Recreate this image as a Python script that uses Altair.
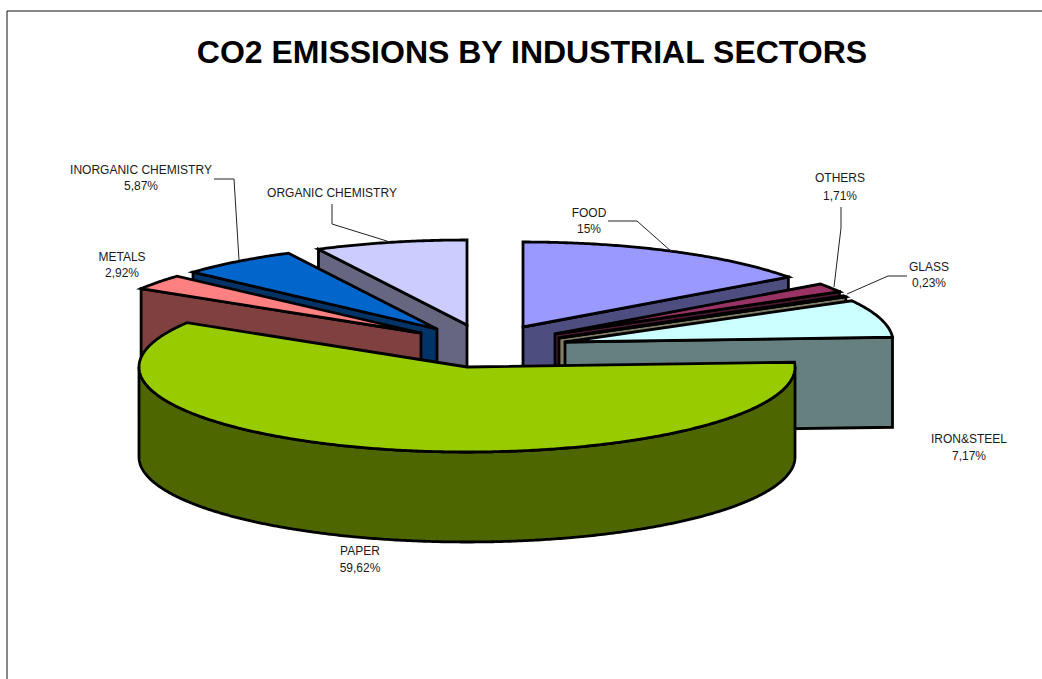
import math
import altair as alt

# Sector shares in percent, clockwise from twelve o'clock
sectors = ["FOOD", "OTHERS", "GLASS", "IRON&STEEL", "PAPER", "METALS", "INORGANIC CHEMISTRY", "ORGANIC CHEMISTRY"]
shares = [15.0, 1.71, 0.23, 7.17, 59.62, 2.92, 5.87, 7.48]
top_colors = ["#9999FF", "#993366", "#FFFFCC", "#CCFFFF", "#99CC00", "#FF8080", "#0066CC", "#CCCCFF"]
side_colors = ["#4D4D80", "#4D1A33", "#807F66", "#668080", "#4D6600", "#804040", "#003366", "#666680"]

# Where each exploded slice has its apex on the page
apex_x = [523, 555, 559, 565, 467, 421, 437, 467]
apex_y = [327, 334, 338, 342, 367, 333, 329, 325]

RX, RY, DEPTH = 328, 85, 90
WIDTH, HEIGHT = 1042, 679

# Slices further back are painted first so nearer ones overlap them
paint_order = [7, 6, 5, 0, 1, 2, 3, 4]

label_lines = [
    ("INORGANIC CHEMISTRY", 141, 169), ("5,87%", 141, 185),
    ("ORGANIC CHEMISTRY", 332, 192),
    ("METALS", 122, 256), ("2,92%", 122, 272),
    ("FOOD", 589, 212), ("15%", 589, 228),
    ("OTHERS", 840, 177), ("1,71%", 840, 195),
    ("GLASS", 929, 266), ("0,23%", 929, 282),
    ("IRON&STEEL", 969, 438), ("7,17%", 969, 455),
    ("PAPER", 360, 550), ("59,62%", 360, 567),
]

leader_paths = [
    [(214, 179), (234, 179), (239, 260)],
    [(332, 204), (332, 224), (390, 242)],
    [(608, 221), (637, 221), (672, 252)],
    [(841, 207), (841, 228), (834, 287)],
    [(907, 276), (888, 276), (847, 294)],
]


def rim(cx, cy, angle):
    """Point on the elliptical rim, angle in degrees clockwise from twelve."""
    a = math.radians(angle)
    return (cx + RX * math.sin(a), cy - RY * math.cos(a))


def arc(cx, cy, start, end):
    steps = max(2, int(abs(end - start) * 2))
    return [rim(cx, cy, start + (end - start) * i / steps) for i in range(steps + 1)]


def drop(points):
    return [(x, y + DEPTH) for x, y in points]


def feature(points, color):
    ring = [list(p) for p in points]
    ring.append(ring[0])
    return {
        "type": "Feature",
        "geometry": {"type": "Polygon", "coordinates": [ring]},
        "properties": {"color": color},
    }


# Turn the shares into angle ranges
bounds = [0.0]
for share in shares:
    bounds.append(bounds[-1] + share * 3.6)

polygons = []
for i in paint_order:
    start, end = bounds[i], bounds[i + 1]
    cx, cy = apex_x[i], apex_y[i]
    apex = (cx, cy)
    # Cut faces that turn towards the viewer
    if math.sin(math.radians(start)) < 0:
        edge = [apex, rim(cx, cy, start)]
        polygons.append(feature(edge + drop(edge)[::-1], side_colors[i]))
    if math.sin(math.radians(end)) > 0:
        edge = [apex, rim(cx, cy, end)]
        polygons.append(feature(edge + drop(edge)[::-1], side_colors[i]))
    # Outer wall, only the front half of the slice that crosses the front of the pie
    if start < 180 < end:
        front = arc(cx, cy, max(start, 90), min(end, 270))
        polygons.append(feature(front + drop(front)[::-1], side_colors[i]))
    polygons.append(feature([apex] + arc(cx, cy, start, end), top_colors[i]))

leaders = [
    {"type": "Feature", "geometry": {"type": "LineString", "coordinates": [list(p) for p in path]}, "properties": {}}
    for path in leader_paths
]

page_projection = dict(type="identity", scale=1, translate=[0, 0])

slices_layer = (
    alt.Chart(alt.Data(values=polygons))
    .mark_geoshape(stroke="black", strokeWidth=2.8, strokeMiterLimit=6)
    .encode(fill=alt.Fill("properties.color:N", scale=None))
    .project(**page_projection)
)

leaders_layer = (
    alt.Chart(alt.Data(values=leaders))
    .mark_geoshape(filled=False, stroke="#222222", strokeWidth=1)
    .project(**page_projection)
)

labels_layer = (
    alt.Chart(alt.Data(values=[{"text": t, "px": x, "py": y} for t, x, y in label_lines]))
    .mark_text(font="Liberation Sans", fontSize=12, color="#1a1a1a", baseline="middle", align="center", dy=0.5)
    .encode(
        x=alt.X("px:Q", scale=None, axis=None),
        y=alt.Y("py:Q", scale=None, axis=None),
        text="text:N",
    )
)

title_layer = (
    alt.Chart(alt.Data(values=[{"text": "CO2 EMISSIONS BY INDUSTRIAL SECTORS", "px": 532, "py": 53}]))
    .mark_text(font="Liberation Sans", fontSize=32, fontWeight="bold", color="black", baseline="middle", align="center")
    .encode(
        x=alt.X("px:Q", scale=None, axis=None),
        y=alt.Y("py:Q", scale=None, axis=None),
        text="text:N",
    )
)

frame_top = (
    alt.Chart(alt.Data(values=[{}]))
    .mark_rule(color="#111111", strokeWidth=1)
    .encode(x=alt.value(7), x2=alt.value(WIDTH), y=alt.value(11))
)
frame_left = (
    alt.Chart(alt.Data(values=[{}]))
    .mark_rule(color="#111111", strokeWidth=1)
    .encode(x=alt.value(7), y=alt.value(11), y2=alt.value(HEIGHT))
)

chart = (
    alt.layer(frame_top, frame_left, slices_layer, leaders_layer, labels_layer, title_layer)
    .properties(width=WIDTH, height=HEIGHT, padding=0, autosize=alt.AutoSizeParams(type="none"), background="white")
    .configure_view(stroke=None)
)

chart.save("out.html", embed_options={"renderer": "svg", "actions": False})
